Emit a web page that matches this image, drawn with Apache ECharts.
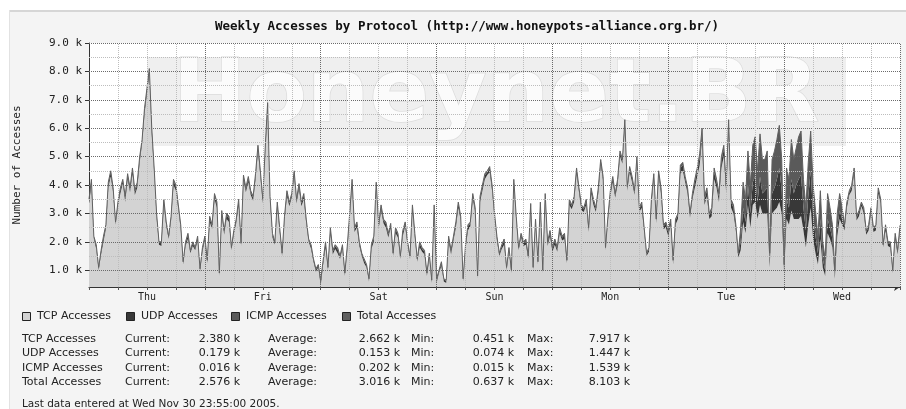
<!DOCTYPE html>
<html>
<head>
<meta charset="utf-8">
<title>Weekly Accesses by Protocol</title>
<script src="https://cdn.jsdelivr.net/npm/echarts@6/dist/echarts.min.js"></script>
<style>
  html, body { margin: 0; padding: 0; background: #fff; }
  #chart { width: 906px; height: 409px; }
</style>
</head>
<body>
<div id="chart"></div>
<script>
/*
 * Weekly accesses by protocol, rrdtool style.
 * One sample every 30 minutes from Thu 00:00 to Thu 00:00, values in thousands.
 */
let STEP_HOURS = 0.5;

let dayLabels = ["Thu", "Fri", "Sat", "Sun", "Mon", "Tue", "Wed"];
let yTickValues = [1, 2, 3, 4, 5, 6, 7, 8, 9];

let tcpAccesses = [
  /* Thu */ 3.35,4.0,2.1,1.75,1.0,1.55,2.0,2.45,3.9,4.3,3.75,2.6,3.25,3.7,4.05,3.4,4.2,3.75,4.4,3.65,3.9,4.8,5.45,6.5,7.2,7.91,5.8,4.45,2.85,1.9,1.85,3.3,2.55,2.1,2.75,4.0,3.8,3.15,2.45,1.2,1.85,2.1,1.6,1.85,1.7,2.05,0.95,1.65,
  /* Fri */ 2.05,1.25,2.7,2.45,3.5,3.2,0.8,2.95,2.25,2.8,2.7,1.7,2.25,2.65,3.3,1.85,4.15,3.75,4.1,3.65,3.45,4.2,5.2,4.3,3.35,5.1,6.7,3.45,2.15,1.9,3.2,2.35,1.5,2.75,3.6,3.25,3.55,4.3,3.35,3.85,3.25,3.5,2.65,2.0,1.75,1.3,0.95,1.1,
  /* Sat */ 0.45,1.2,1.8,1.0,2.3,1.55,1.75,1.6,1.4,1.75,0.8,1.7,2.8,4.0,2.35,2.5,1.85,1.5,1.25,1.1,0.6,1.75,2.0,3.9,2.45,3.1,2.65,2.5,2.15,2.5,1.5,2.3,2.15,1.4,2.2,2.55,1.85,1.4,3.1,2.15,1.3,1.8,1.65,1.55,0.8,1.45,0.55,3.1,
  /* Sun */ 0.55,0.9,1.15,0.6,0.55,2.0,1.55,2.05,2.5,3.2,2.75,0.6,1.75,2.4,2.55,3.5,3.05,0.7,3.4,3.8,4.2,4.35,4.45,3.8,2.85,2.05,1.5,1.75,1.9,1.0,1.65,0.9,4.0,2.75,1.7,2.15,1.85,1.9,1.4,3.15,1.0,2.65,1.2,3.2,0.9,3.5,1.85,2.2,
  /* Mon */ 1.65,1.9,1.65,2.3,2.05,2.1,1.25,3.3,3.15,3.4,4.4,3.75,3.1,3.05,3.3,2.35,3.7,3.3,3.05,3.7,4.7,4.15,1.7,2.75,3.6,4.1,3.55,4.0,5.0,4.75,6.1,3.8,4.45,4.1,3.65,4.8,3.05,3.2,2.35,1.5,1.65,3.3,4.2,2.65,4.3,3.7,2.45,2.5,
  /* Tue */ 2.2,2.6,1.2,2.6,2.8,4.4,4.5,4.1,3.7,2.85,3.5,3.9,4.3,4.7,5.6,3.3,3.6,2.8,2.9,4.2,3.9,3.4,4.6,5.0,3.7,5.9,3.2,3.0,2.4,1.45,1.7,2.7,2.3,3.3,2.5,3.3,3.4,2.8,3.3,3.0,3.0,3.0,1.1,3.0,3.1,3.2,3.4,3.0,
  /* Wed */ 0.85,2.8,2.6,3.1,2.8,2.8,2.8,2.91,2.4,1.8,2.6,3.2,2.1,1.6,1.2,2.1,1.1,0.8,2.3,2.1,1.8,0.7,2.2,2.8,2.6,2.4,3.2,3.65,3.8,4.4,2.75,2.9,3.25,3.0,2.25,2.4,3.0,2.35,2.4,3.7,3.35,1.8,2.4,1.85,1.8,0.9,2.1,1.55,2.38
];

let udpAccesses = [
  /* Thu */ 0.1,0.14,0.07,0.1,0.07,0.1,0.14,0.1,0.14,0.14,0.1,0.07,0.1,0.14,0.1,0.14,0.14,0.1,0.14,0.1,0.14,0.14,0.1,0.14,0.14,0.15,0.14,0.1,0.1,0.07,0.1,0.14,0.1,0.07,0.1,0.14,0.14,0.1,0.1,0.07,0.1,0.14,0.07,0.1,0.07,0.1,0.07,0.1,
  /* Fri */ 0.1,0.07,0.14,0.1,0.14,0.14,0.07,0.1,0.1,0.14,0.14,0.07,0.1,0.1,0.14,0.07,0.14,0.1,0.14,0.1,0.1,0.14,0.14,0.14,0.1,0.14,0.14,0.1,0.1,0.07,0.14,0.1,0.07,0.1,0.14,0.1,0.1,0.14,0.1,0.14,0.1,0.14,0.1,0.07,0.1,0.07,0.07,0.07,
  /* Sat */ 0.14,0.1,0.14,0.07,0.14,0.1,0.1,0.14,0.07,0.1,0.07,0.1,0.14,0.14,0.1,0.14,0.1,0.07,0.1,0.07,0.07,0.1,0.14,0.14,0.1,0.14,0.1,0.14,0.1,0.1,0.07,0.14,0.1,0.07,0.14,0.1,0.1,0.07,0.14,0.1,0.07,0.14,0.1,0.1,0.07,0.1,0.07,0.14,
  /* Sun */ 0.1,0.07,0.1,0.07,0.07,0.14,0.1,0.1,0.14,0.14,0.1,0.07,0.1,0.14,0.1,0.14,0.1,0.07,0.14,0.14,0.14,0.1,0.14,0.14,0.1,0.1,0.07,0.1,0.14,0.07,0.1,0.07,0.14,0.1,0.07,0.1,0.1,0.14,0.07,0.14,0.07,0.1,0.07,0.14,0.07,0.14,0.1,0.14,
  /* Mon */ 0.1,0.14,0.1,0.14,0.1,0.14,0.07,0.14,0.1,0.14,0.14,0.1,0.14,0.1,0.14,0.1,0.14,0.14,0.1,0.14,0.14,0.1,0.07,0.1,0.14,0.14,0.1,0.14,0.14,0.1,0.14,0.1,0.14,0.14,0.1,0.14,0.1,0.14,0.1,0.07,0.1,0.14,0.14,0.1,0.14,0.14,0.1,0.14,
  /* Tue */ 0.14,0.14,0.1,0.14,0.14,0.2,0.2,0.14,0.14,0.1,0.14,0.2,0.2,0.25,0.25,0.2,0.2,0.14,0.2,0.25,0.2,0.2,0.25,0.25,0.2,0.25,0.2,0.2,0.14,0.1,0.3,0.5,0.4,0.7,0.5,0.8,0.9,0.6,1.0,0.7,0.8,0.9,0.2,0.7,0.8,1.0,1.2,0.8,
  /* Wed */ 0.15,0.7,0.6,1.1,0.9,1.2,1.4,1.45,0.8,0.6,1.0,1.3,0.8,0.6,0.4,0.7,0.3,0.2,0.5,0.4,0.3,0.1,0.3,0.3,0.2,0.14,0.14,0.1,0.14,0.14,0.1,0.14,0.1,0.14,0.1,0.14,0.14,0.1,0.14,0.14,0.1,0.07,0.14,0.1,0.14,0.07,0.14,0.1,0.18
];

let icmpAccesses = [
  /* Thu */ 0.05,0.06,0.03,0.05,0.03,0.05,0.06,0.05,0.06,0.06,0.05,0.03,0.05,0.06,0.05,0.06,0.06,0.05,0.06,0.05,0.06,0.06,0.05,0.06,0.06,0.04,0.06,0.05,0.05,0.03,0.05,0.06,0.05,0.03,0.05,0.06,0.06,0.05,0.05,0.03,0.05,0.06,0.03,0.05,0.03,0.05,0.03,0.05,
  /* Fri */ 0.05,0.03,0.06,0.05,0.06,0.06,0.03,0.05,0.05,0.06,0.06,0.03,0.05,0.05,0.06,0.03,0.06,0.05,0.06,0.05,0.05,0.06,0.06,0.06,0.05,0.06,0.06,0.05,0.05,0.03,0.06,0.05,0.03,0.05,0.06,0.05,0.05,0.06,0.05,0.06,0.05,0.06,0.05,0.03,0.05,0.03,0.03,0.03,
  /* Sat */ 0.06,0.05,0.06,0.03,0.06,0.05,0.05,0.06,0.03,0.05,0.03,0.05,0.06,0.06,0.05,0.06,0.05,0.03,0.05,0.03,0.03,0.05,0.06,0.06,0.05,0.06,0.05,0.06,0.05,0.05,0.03,0.06,0.05,0.03,0.06,0.05,0.05,0.03,0.06,0.05,0.03,0.06,0.05,0.05,0.03,0.05,0.03,0.06,
  /* Sun */ 0.05,0.03,0.05,0.03,0.03,0.06,0.05,0.05,0.06,0.06,0.05,0.03,0.05,0.06,0.05,0.06,0.05,0.03,0.06,0.06,0.06,0.05,0.06,0.06,0.05,0.05,0.03,0.05,0.06,0.03,0.05,0.03,0.06,0.05,0.03,0.05,0.05,0.06,0.03,0.06,0.03,0.05,0.03,0.06,0.03,0.06,0.05,0.06,
  /* Mon */ 0.05,0.06,0.05,0.06,0.05,0.06,0.03,0.06,0.05,0.06,0.06,0.05,0.06,0.05,0.06,0.05,0.06,0.06,0.05,0.06,0.06,0.05,0.03,0.05,0.06,0.06,0.05,0.06,0.06,0.05,0.06,0.05,0.06,0.06,0.05,0.06,0.05,0.06,0.05,0.03,0.05,0.06,0.06,0.05,0.06,0.06,0.05,0.06,
  /* Tue */ 0.06,0.06,0.05,0.06,0.06,0.1,0.1,0.06,0.06,0.05,0.06,0.1,0.1,0.15,0.15,0.1,0.1,0.06,0.1,0.15,0.1,0.1,0.15,0.15,0.1,0.15,0.1,0.1,0.06,0.05,0.5,0.9,0.8,1.2,1.0,1.3,1.4,1.1,1.5,1.2,1.1,1.3,0.3,1.2,1.3,1.4,1.5,1.1,
  /* Wed */ 0.2,1.1,1.0,1.4,1.2,1.3,1.5,1.54,1.0,0.8,1.2,1.4,1.1,0.9,0.6,1.0,0.6,0.4,0.9,0.7,0.5,0.2,0.5,0.6,0.4,0.06,0.06,0.05,0.06,0.06,0.05,0.06,0.05,0.06,0.05,0.06,0.06,0.05,0.06,0.06,0.05,0.03,0.06,0.05,0.06,0.03,0.06,0.05,0.02
];

let legendNames = ["TCP Accesses", "UDP Accesses", "ICMP Accesses", "Total Accesses"];
let statsRows = [
  ["TCP Accesses", "2.380 k", "2.662 k", "0.451 k", "7.917 k"],
  ["UDP Accesses", "0.179 k", "0.153 k", "0.074 k", "1.447 k"],
  ["ICMP Accesses", "0.016 k", "0.202 k", "0.015 k", "1.539 k"],
  ["Total Accesses", "2.576 k", "3.016 k", "0.637 k", "8.103 k"],
];
let lastUpdate = "Last data entered at Wed Nov 30 23:55:00 2005.";

/* ---- styling ---- */
let C_TCP = "#d3d3d3";
let C_UDP = "#383838";
let C_ICMP = "#5a5a5a";
let C_TOTAL = "#606060";
let MONO = "'DejaVu Sans Mono', monospace";
let SANS = "'DejaVu Sans', sans-serif";
let legendColors = [C_TCP, C_UDP, C_ICMP, C_TOTAL];

/* one category per 30 min sample; name = hours since Thu 00:00 */
let hourCategories = tcpAccesses.map(function (v, i) { return String(i * STEP_HOURS); });
let SAMPLES_PER_DAY = 24 / STEP_HOURS;
let SAMPLES_PER_6H = 6 / STEP_HOURS;

/* dotted rrdtool grid, drawn above the areas */
let MAJOR = { color: "#6a6a6a", type: [1, 1], width: 1 };
let MINOR = { color: "#bdbdbd", type: [1, 1], width: 1 };
let gridLines = [];
for (let v = 1; v <= 9; v += 0.5) {
  gridLines.push({ yAxis: v, lineStyle: v % 1 === 0 ? MAJOR : MINOR });
}
for (let h = 6; h <= 168; h += 6) {
  gridLines.push({ xAxis: String(h), lineStyle: h % 24 === 0 ? MAJOR : MINOR });
}

/* legend + GPRINT block as plain text */
let graphics = [
  { type: "rect", shape: { x: 0, y: 0, width: 906, height: 10 }, style: { fill: "#fff" }, silent: true },
  { type: "rect", shape: { x: 0, y: 0, width: 9, height: 409 }, style: { fill: "#fff" }, silent: true },
  { type: "line", shape: { x1: 9, y1: 11, x2: 906, y2: 11 }, style: { stroke: "#d6d6d6", lineWidth: 2 }, silent: true },
  { type: "line", shape: { x1: 9.5, y1: 10, x2: 9.5, y2: 409 }, style: { stroke: "#e2e2e2", lineWidth: 1 }, silent: true },
  /* watermark behind the data */
  { type: "rect", z: 1, shape: { x: 147, y: 57, width: 699, height: 89 }, style: { fill: "#efefef" }, silent: true },
  { type: "text", z: 1, x: 496, y: 98, silent: true,
    style: { text: "Honeynet.BR", font: "bold 88px " + SANS, fill: "#fbfbfb", stroke: "#dcdcdc", lineWidth: 1.5, align: "center", verticalAlign: "middle" } },
];

let legendX = [22, 126, 231, 342];
legendNames.forEach(function (name, i) {
  graphics.push({ type: "rect", shape: { x: legendX[i] + 0.5, y: 312.5, width: 8, height: 8 },
    style: { fill: legendColors[i], stroke: "#222", lineWidth: 1 }, silent: true });
  graphics.push({ type: "text", x: legendX[i] + 15, y: 316.5, silent: true,
    style: { text: name, font: "11px " + SANS, fill: "#222", verticalAlign: "middle" } });
});

let rowY = [339, 353.5, 368, 382.5];
statsRows.forEach(function (row, i) {
  let y = rowY[i];
  let cells = [
    { x: 22, t: row[0], a: "left" },
    { x: 125, t: "Current:", a: "left" },
    { x: 240, t: row[1], a: "right" },
    { x: 268, t: "Average:", a: "left" },
    { x: 400, t: row[2], a: "right" },
    { x: 411, t: "Min:", a: "left" },
    { x: 514, t: row[3], a: "right" },
    { x: 527, t: "Max:", a: "left" },
    { x: 630, t: row[4], a: "right" },
  ];
  cells.forEach(function (c) {
    graphics.push({ type: "text", x: c.x, y: y, silent: true,
      style: { text: c.t, font: "11px " + SANS, fill: "#222", align: c.a, verticalAlign: "middle" } });
  });
});
graphics.push({ type: "text", x: 22, y: 404, silent: true,
  style: { text: lastUpdate, font: "10.5px " + SANS, fill: "#222", verticalAlign: "middle" } });

let chart = echarts.init(document.getElementById("chart"), null, { renderer: "canvas" });

chart.setOption({
  animation: false,
  backgroundColor: "#f4f4f4",
  title: {
    text: "Weekly Accesses by Protocol (http://www.honeypots-alliance.org.br/)",
    left: 462, top: 15, textAlign: "center",
    textStyle: { fontFamily: MONO, fontWeight: "bold", fontSize: 12.5, color: "#111" },
  },
  grid: { left: 89, top: 43, width: 811, height: 244, show: true, backgroundColor: "#fff", borderWidth: 0 },
  xAxis: {
    type: "category", data: hourCategories, boundaryGap: false,
    axisLine: { show: true, lineStyle: { color: "#333", width: 1 }, symbol: ["none", "arrow"], symbolSize: [6, 6] },
    axisTick: {
      show: true, length: 3, lineStyle: { color: "#555" },
      interval: function (i) { return i % SAMPLES_PER_6H === 0; },
    },
    axisLabel: {
      margin: 5, fontFamily: MONO, fontSize: 10, color: "#222",
      interval: function (i) { return i % SAMPLES_PER_DAY === SAMPLES_PER_DAY / 2; },
      formatter: function (v, i) { return dayLabels[Math.floor(i / SAMPLES_PER_DAY)]; },
    },
    splitLine: { show: false },
  },
  yAxis: {
    type: "value", min: 0.41, max: 9,
    name: "Number of Accesses", nameLocation: "middle", nameGap: 66,
    nameTextStyle: { fontFamily: MONO, fontSize: 11, color: "#222" },
    axisLine: { show: true, lineStyle: { color: "#333", width: 1 } },
    axisTick: { show: true, length: 4, customValues: yTickValues, lineStyle: { color: "#333" } },
    axisLabel: {
      customValues: yTickValues, margin: 7, fontFamily: MONO, fontSize: 11, color: "#222",
      formatter: function (v) { return v.toFixed(1) + " k"; },
    },
    splitLine: { show: false },
  },
  graphic: graphics,
  series: [
    {
      name: "TCP Accesses", type: "line", stack: "proto", data: tcpAccesses,
      showSymbol: false, silent: true, lineStyle: { width: 0 },
      areaStyle: { color: C_TCP, opacity: 1 },
    },
    {
      name: "UDP Accesses", type: "line", stack: "proto", data: udpAccesses,
      showSymbol: false, silent: true, lineStyle: { width: 0 },
      areaStyle: { color: C_UDP, opacity: 1 },
    },
    {
      name: "ICMP Accesses", type: "line", stack: "proto", data: icmpAccesses,
      showSymbol: false, silent: true, lineStyle: { color: C_TOTAL, width: 1 },
      areaStyle: { color: C_ICMP, opacity: 1 },
      markLine: { silent: true, symbol: ["none", "none"], label: { show: false }, animation: false, data: gridLines },
    },
  ],
});
</script>
</body>
</html>
